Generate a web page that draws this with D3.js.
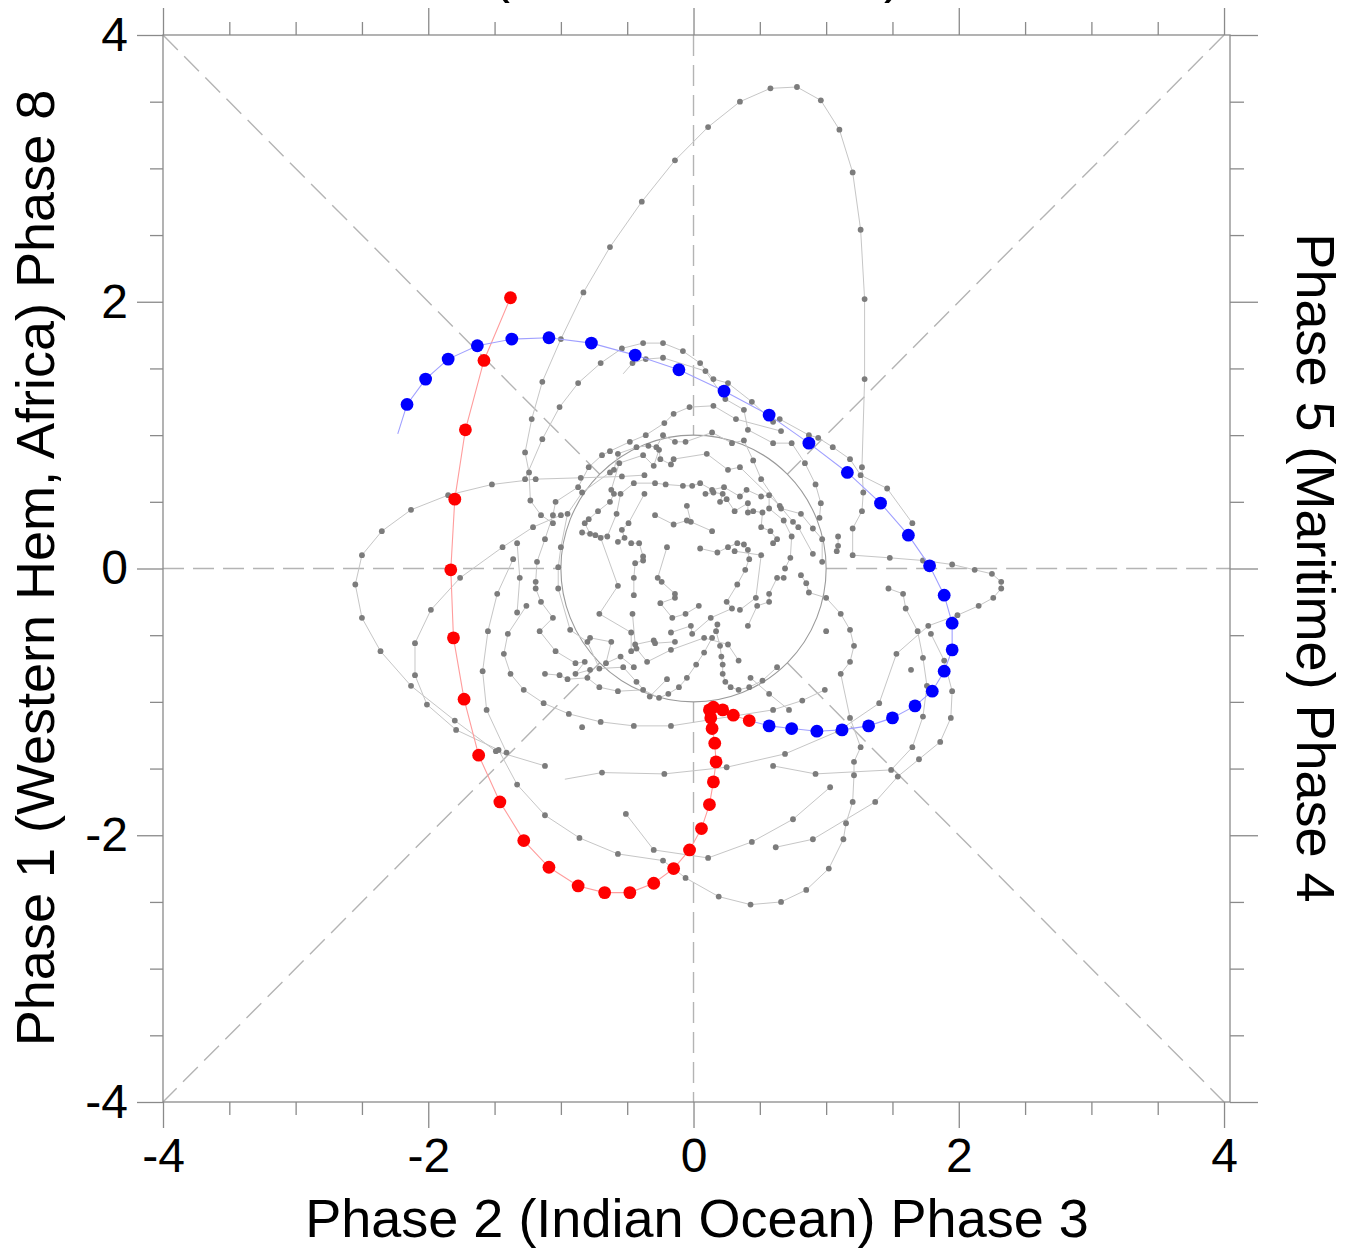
<!DOCTYPE html>
<html lang="en">
<head>
<meta charset="UTF-8">
<title>MJO phase space</title>
<style>
body { margin: 0; background: #fff; }
svg text { font-family: "Liberation Sans", Arial, Helvetica, sans-serif; fill: #000; }
.tick line { stroke: #8a8a8a; stroke-width: 1.3; }
</style>
</head>
<body>
<svg id="chart" width="1352" height="1249"></svg>
<script src="https://cdn.jsdelivr.net/npm/d3@7"></script>
<script>
// ---- data (RMM1, RMM2); a third value of 0 marks a line end drawn without a dot ----
const majorTicks = [-4, -2, 0, 2, 4];
const minorTicks = [-3.5, -3, -2.5, -1.5, -1, -0.5, 0.5, 1, 1.5, 2.5, 3, 3.5];

// reference lines, from the unit circle out to the frame
const refLines = [
  [[-4, 0], [-1, 0]], [[1, 0], [4.045, 0]],
  [[0, 4], [0, 1]], [[0, -1], [0, -4]],
  [[-4, 4], [-0.707, 0.707]], [[0.707, -0.707], [4, -4]],
  [[4, 4], [0.707, 0.707]], [[-0.707, -0.707], [-4, -4]]
];

const trackA = [[-1.06,0.34],[-1.15,0.40],[-1.23,0.51],[-1.24,0.72],[-1.27,0.87],[-1.22,1.12],[-1.14,1.40],[-1.00,1.72],[-0.83,2.07],[-0.63,2.41],[-0.39,2.75],[-0.14,3.06],[0.11,3.31],[0.35,3.50],[0.58,3.60],[0.78,3.61],[0.96,3.51],[1.10,3.29],[1.20,2.97],[1.26,2.54],[1.29,2.02],[1.29,1.42],[1.27,0.76],[1.28,0.57],[1.27,0.43],[1.20,0.30],[1.20,0.10],[1.48,0.08],[1.73,0.06],[1.95,0.03],[2.12,-0.01],[2.25,-0.04],[2.32,-0.10],[2.32,-0.15],[2.26,-0.22],[2.15,-0.28],[1.99,-0.35],[1.77,-0.43],[1.53,-0.64],[1.40,-1.01],[1.09,-1.22],[0.69,-1.39],[0.25,-1.49],[-0.22,-1.54],[-0.69,-1.53],[-0.97,-1.58,0]];
const trackB = [[-0.37,0.70],[-0.54,0.69],[-0.85,0.68],[-1.19,0.67],[-1.52,0.63],[-1.85,0.55],[-2.13,0.44],[-2.35,0.28],[-2.50,0.10],[-2.55,-0.12],[-2.50,-0.37],[-2.36,-0.62],[-2.13,-0.88],[-1.80,-1.14],[-1.49,-1.37],[-1.12,-1.48]];
const trackC = [[-1.00,0.40],[-1.21,0.31],[-1.44,0.16],[-1.76,-0.07],[-1.98,-0.31],[-2.10,-0.56],[-2.10,-0.80],[-2.01,-1.02],[-1.79,-1.21],[-1.47,-1.36],[-1.33,-1.62],[-1.12,-1.85],[-0.86,-2.02],[-0.57,-2.14],[-0.23,-2.19],[-0.06,-2.32],[0.19,-2.46],[0.43,-2.52],[0.66,-2.50],[0.85,-2.41],[1.02,-2.25],[1.13,-2.03],[1.15,-1.91],[1.20,-1.75],[1.21,-1.55],[1.21,-1.45],[1.26,-1.34],[1.18,-1.12],[1.11,-0.79],[1.18,-0.70],[1.21,-0.58],[1.18,-0.46],[1.11,-0.34],[1.00,-0.22],[0.87,-0.18],[0.85,-0.11],[0.81,-0.05]];
const trackD = [[-0.51,-1.84],[-0.30,-2.11],[0.11,-2.17],[0.44,-2.05],[0.75,-1.88],[1.03,-1.64]];
const trackE = [[0.62,-2.09],[0.90,-2.03],[1.37,-1.75],[1.54,-1.56],[1.70,-1.43],[1.86,-1.30],[1.94,-1.12],[1.95,-0.92],[1.89,-0.69],[1.79,-0.49]];
const trackF = [[0.60,-1.48],[0.92,-1.54],[1.49,-1.51],[1.65,-1.34],[1.73,-1.11],[1.76,-0.88],[1.73,-0.67],[1.69,-0.47],[1.60,-0.30],[1.58,-0.19],[1.47,-0.15]];
const trackG = [[-1.26,-0.28],[-1.40,-0.49],[-1.43,-0.64],[-1.38,-0.79],[-1.28,-0.91],[-1.13,-1.01],[-0.94,-1.09],[-0.70,-1.15],[-0.45,-1.18],[-0.17,-1.18],[0.60,-1.06],[0.82,-0.99],[0.99,-0.91]];
const trackH = [[-1.36,0.07],[-1.48,-0.19],[-1.55,-0.47],[-1.59,-0.77],[-1.56,-1.06],[-1.41,-1.38]];
const trackI = [[-1.12,-0.79],[-1.01,-0.80],[-0.95,-0.83],[-0.80,-0.82],[-0.71,-0.89],[-0.57,-0.92],[-0.38,-0.91],[-0.26,-0.97],[-0.19,-0.94],[-0.11,-0.89],[-0.05,-0.82],[0.02,-0.72],[0.08,-0.63],[0.14,-0.52]];
const trackJ = [[0.18,-0.42],[0.17,-0.47],[0.20,-0.58],[0.21,-0.66],[0.22,-0.72],[0.22,-0.79],[0.24,-0.85],[0.28,-0.89],[0.34,-0.91],[0.42,-0.89],[0.52,-0.84],[0.63,-0.74]];
const trackL1 = [[-1.27,0.67],[-1.14,0.97],[-1.01,1.21],[-0.87,1.39],[-0.70,1.54],[-0.54,1.65],[-0.38,1.69],[-0.23,1.69],[-0.08,1.63],[0.05,1.54],[0.15,1.42],[0.26,1.39],[0.44,1.25],[0.60,1.10],[0.65,1.12],[0.87,1.00],[0.94,0.98],[1.05,0.91],[1.18,0.82],[1.26,0.70],[1.46,0.60],[1.65,0.34]];
const trackL2 = [[-0.53,1.46,0],[-0.46,1.54],[-0.36,1.57],[-0.23,1.58],[0.09,1.48],[0.24,1.27],[0.38,1.19],[0.41,1.04],[0.60,0.94],[0.74,0.94],[0.84,0.79],[0.92,0.63],[0.96,0.49],[0.95,0.38]];
const trackN = [[-1.33,0.19],[-1.31,-0.07],[-1.33,-0.33]];

// inner tangle, split into short arcs
const core1a = [[0.05,0.15],[0.18,0.12],[0.26,0.16],[0.33,0.19],[0.38,0.18],[0.41,0.14],[0.42,0.07],[0.39,-0.01],[0.33,-0.12],[0.25,-0.25],[0.29,-0.30],[0.13,-0.37],[-0.01,-0.49],[-0.02,-0.43],[-0.17,-0.48]];
const core1b = [[0.31,0.13],[0.51,0.10],[0.47,-0.22],[0.35,-0.31]];
const core1c = [[-0.05,0.47],[-0.02,0.35],[0.14,0.28]];
const core1d = [[-0.29,0.40],[-0.15,0.33],[-0.05,0.36]];
const core1e = [[-0.47,0.19],[-0.41,0.19],[-0.38,0.09],[-0.38,0.06],[-0.44,0.04],[-0.45,-0.07],[-0.45,-0.20]];
const core1f = [[-0.20,0.16],[-0.27,-0.07],[-0.24,-0.10],[-0.14,-0.19],[-0.14,-0.22],[-0.25,-0.26],[-0.16,-0.37],[-0.06,-0.34],[0.04,-0.28]];
const core2a = [[0.69,0.00],[0.73,0.08],[0.74,0.24],[0.68,0.36],[0.57,0.45],[0.57,0.55],[0.51,0.54],[0.40,0.59],[0.35,0.54],[0.23,0.61],[0.14,0.59],[0.05,0.64],[-0.01,0.62],[-0.08,0.62],[-0.21,0.63],[-0.29,0.64],[-0.45,0.64],[-0.55,0.56],[-0.58,0.41],[-0.65,0.24],[-0.74,0.25],[-0.70,0.23],[-0.57,-0.13],[-0.71,-0.34],[-0.47,-0.48],[-0.47,-0.62],[-0.43,-0.60],[-0.35,-0.70],[-0.17,-0.61],[0.08,-0.52],[0.26,-0.57],[0.34,-0.69]];
const core2b = [[0.60,0.19],[0.63,0.22],[0.58,0.28],[0.51,0.31],[0.52,0.42],[0.45,0.43],[0.41,0.42],[0.41,0.49],[0.31,0.43],[0.25,0.52],[0.20,0.50],[0.22,0.56],[0.15,0.57],[0.09,0.56]];
const core2c = [[-0.37,0.56],[-0.49,0.34],[-0.54,0.29],[-0.52,0.23],[-0.57,0.20]];
const core2d = [[-0.46,-0.34],[-0.44,-0.57],[-0.30,-0.54],[-0.29,-0.56],[-0.14,-0.55]];
const core2e = [[0.41,-0.43],[0.48,-0.28],[0.57,-0.25],[0.57,-0.19],[0.63,-0.07],[0.68,-0.07]];
const core3a = [[0.97,0.05],[0.97,0.22],[0.90,0.30],[0.81,0.41],[0.66,0.45],[0.51,0.67],[0.45,0.81],[0.38,0.96],[0.29,0.94],[0.14,1.02],[-0.06,0.95],[-0.14,0.95],[-0.23,1.00],[-0.28,0.91],[-0.34,0.92],[-0.43,0.91],[-0.57,0.86],[-0.60,0.74],[-0.63,0.72],[-0.84,0.57],[-0.95,0.41],[-1.00,0.16],[-1.02,0.01],[-1.02,-0.15],[-0.93,-0.46],[-0.80,-0.55],[-0.71,-0.75],[-0.53,-0.74],[-0.43,-0.85],[-0.33,-0.96],[-0.20,-0.83]];
const core3b = [[0.90,0.11],[0.79,0.31],[0.75,0.35],[0.65,0.47],[0.35,0.76],[0.26,0.74],[0.10,0.86],[-0.15,0.82],[-0.17,0.78],[-0.25,0.82],[-0.26,0.89],[-0.30,0.77],[-0.38,0.85],[-0.56,0.79],[-0.62,0.59],[-0.60,0.56],[-0.63,0.50],[-0.72,0.43],[-0.79,0.37],[-0.82,0.34],[-0.78,0.26],[-0.84,0.27]];
const core3c = [[-0.78,-0.52],[-0.62,-0.55],[-0.66,-0.71],[-0.55,-0.66],[-0.45,-0.74]];
const core3d = [[0.43,-0.82],[0.57,-0.94],[0.72,-1.06]];
const core4a = [[1.08,0.13],[1.09,0.17],[1.09,0.24]];
const core4b = [[0.66,1.03],[0.32,1.12],[0.15,1.22],[-0.03,1.21],[-0.15,1.16],[-0.22,1.09],[-0.36,1.00],[-0.48,0.95],[-0.63,0.88],[-0.69,0.85],[-0.79,0.76],[-0.87,0.61],[-1.04,0.50],[-1.06,0.40],[-1.12,0.22],[-1.18,0.05],[-1.19,-0.10],[-1.19,-0.15],[-1.15,-0.25],[-1.06,-0.37],[-1.16,-0.47],[-1.04,-0.62],[-0.89,-0.71],[-0.82,-0.70],[-0.89,-0.79],[-0.78,-0.76]];
const loneDays = [[[-0.84,-1.19]], [[1.64,-0.76]], [[1.00,-0.47]]];

const redDays = [[-1.38,2.03],[-1.58,1.56],[-1.72,1.04],[-1.80,0.52],[-1.83,-0.01],[-1.81,-0.52],[-1.73,-0.98],[-1.62,-1.40],[-1.46,-1.75],[-1.28,-2.04],[-1.09,-2.24],[-0.87,-2.38],[-0.67,-2.43],[-0.48,-2.43],[-0.30,-2.36],[-0.15,-2.25],[-0.03,-2.11],[0.06,-1.95],[0.12,-1.77],[0.15,-1.60],[0.17,-1.45],[0.16,-1.31],[0.14,-1.20],[0.13,-1.12],[0.12,-1.06],[0.15,-1.04],[0.22,-1.06],[0.30,-1.10],[0.42,-1.14]];
const blueDays = [[0.57,-1.18],[0.74,-1.20],[0.93,-1.22],[1.12,-1.21],[1.32,-1.18],[1.50,-1.12],[1.67,-1.03],[1.80,-0.92],[1.89,-0.77],[1.95,-0.61],[1.95,-0.41],[1.89,-0.20],[1.78,0.02],[1.62,0.25],[1.41,0.49],[1.16,0.72],[0.87,0.94],[0.57,1.15],[0.23,1.33],[-0.11,1.49],[-0.44,1.60],[-0.77,1.69],[-1.09,1.73],[-1.37,1.72],[-1.63,1.67],[-1.85,1.57],[-2.02,1.42],[-2.16,1.23],[-2.23,1.01,0]];

const grayTracks = [trackA, trackB, trackC, trackD, trackE, trackF, trackG, trackH, trackI, trackJ,
  trackL1, trackL2, trackN,
  core1a, core1b, core1c, core1d, core1e, core1f,
  core2a, core2b, core2c, core2d, core2e,
  core3a, core3b, core3c, core3d, core4a, core4b, ...loneDays];

// ---- scales ----
const W = 1352, H = 1249;
const x = d3.scaleLinear().domain([-4, 4.045]).range([163, 1230]);
const y = d3.scaleLinear().domain([-4, 4]).range([1102, 35]);
const svg = d3.select("#chart");
svg.append("rect").attr("width", W).attr("height", H).attr("fill", "#fff");

const line = d3.line().x(d => x(d[0])).y(d => y(d[1]));
const hasDot = d => d[2] !== 0;

// reference dashes and unit circle
svg.append("g").selectAll("path")
  .data(refLines)
  .join("path")
  .attr("d", line)
  .attr("fill", "none")
  .attr("stroke", "#b4b4b4")
  .attr("stroke-width", 1.4)
  .attr("stroke-dasharray", "21,9");

svg.append("ellipse")
  .attr("cx", x(0)).attr("cy", y(0))
  .attr("rx", x(1) - x(0)).attr("ry", y(0) - y(1))
  .attr("fill", "none")
  .attr("stroke", "#9a9a9a")
  .attr("stroke-width", 1.1);

// gray trajectory
svg.append("g").selectAll("path")
  .data(grayTracks)
  .join("path")
  .attr("d", line)
  .attr("fill", "none")
  .attr("stroke", "#c6c6c6")
  .attr("stroke-width", 1);

svg.append("g").selectAll("circle")
  .data(grayTracks.flat().filter(hasDot))
  .join("circle")
  .attr("cx", d => x(d[0]))
  .attr("cy", d => y(d[1]))
  .attr("r", 2.9)
  .attr("fill", "#7c7c7c");

// red and blue months
svg.append("path")
  .attr("d", line(redDays))
  .attr("fill", "none")
  .attr("stroke", "#ff9c9c")
  .attr("stroke-width", 1.1);
svg.append("path")
  .attr("d", line([redDays[redDays.length - 1], ...blueDays]))
  .attr("fill", "none")
  .attr("stroke", "#a0a0ff")
  .attr("stroke-width", 1.1);

svg.append("g").selectAll("circle")
  .data(redDays)
  .join("circle")
  .attr("cx", d => x(d[0]))
  .attr("cy", d => y(d[1]))
  .attr("r", 6.4)
  .attr("fill", "#ff0000");
svg.append("g").selectAll("circle")
  .data(blueDays.filter(hasDot))
  .join("circle")
  .attr("cx", d => x(d[0]))
  .attr("cy", d => y(d[1]))
  .attr("r", 6.4)
  .attr("fill", "#0000ff");

// ---- frame and axes ----
svg.append("rect")
  .attr("x", x.range()[0]).attr("y", y.range()[1])
  .attr("width", x.range()[1] - x.range()[0])
  .attr("height", y.range()[0] - y.range()[1])
  .attr("fill", "none")
  .attr("stroke", "#8a8a8a")
  .attr("stroke-width", 1.3);

const fmt = d => String(d);
function addAxis(axisFn, scale, transform, ticks, size, labels, pad) {
  const a = axisFn(scale).tickValues(ticks).tickSize(size).tickPadding(pad || 0)
    .tickFormat(labels ? fmt : "");
  const g = svg.append("g").attr("transform", transform).call(a);
  g.select(".domain").remove();
  g.selectAll("text").style("font-size", "48px");
  return g;
}
addAxis(d3.axisBottom, x, `translate(0,${y(-4)})`, majorTicks, 26, true, 10);
addAxis(d3.axisBottom, x, `translate(0,${y(-4)})`, minorTicks, 13, false);
addAxis(d3.axisTop, x, `translate(0,${y(4)})`, majorTicks, 27, false);
addAxis(d3.axisTop, x, `translate(0,${y(4)})`, minorTicks, 13, false);
addAxis(d3.axisLeft, y, `translate(${x(-4)},0)`, majorTicks, 26, true, 9);
addAxis(d3.axisLeft, y, `translate(${x(-4)},0)`, minorTicks, 13, false);
addAxis(d3.axisRight, y, `translate(${x.range()[1]},0)`, majorTicks, 28, false);
addAxis(d3.axisRight, y, `translate(${x.range()[1]},0)`, minorTicks, 14, false);

// ---- axis titles ----
svg.append("text")
  .attr("x", 697).attr("y", 1237)
  .attr("text-anchor", "middle")
  .style("font-size", "54px")
  .text("Phase 2 (Indian Ocean) Phase 3");

// top title sits mostly above the page, as in the original figure
svg.append("text")
  .attr("x", 697).attr("y", -8)
  .attr("text-anchor", "middle")
  .style("font-size", "54px")
  .text("Phase 7 (Western Pacific) Phase 6");

svg.append("text")
  .attr("transform", "translate(54,568) rotate(-90)")
  .attr("text-anchor", "middle")
  .style("font-size", "54px")
  .text("Phase 1 (Western Hem, Africa) Phase 8");

svg.append("text")
  .attr("transform", "translate(1297,568) rotate(90)")
  .attr("text-anchor", "middle")
  .style("font-size", "54px")
  .text("Phase 5 (Maritime) Phase 4");
</script>
</body>
</html>
